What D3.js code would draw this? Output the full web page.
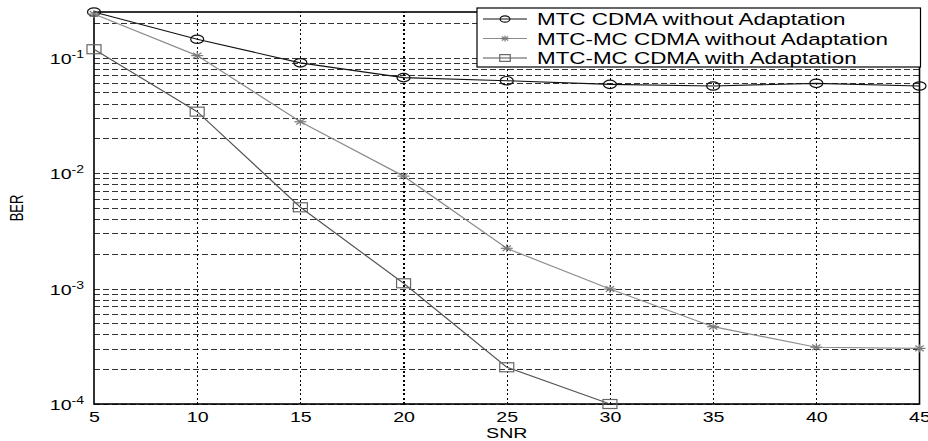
<!DOCTYPE html>
<html>
<head>
<meta charset="utf-8">
<script src="https://cdn.jsdelivr.net/npm/d3@7"></script>
<style>
  html, body { margin: 0; padding: 0; background: #fff; }
  svg { display: block; font-family: "Liberation Sans", Arial, sans-serif; }
</style>
</head>
<body>
<svg id="chart" width="928" height="441"></svg>
<script>
// SNR sweep (dB) and measured bit error rates
const snr = [5, 10, 15, 20, 25, 30, 35, 40, 45];
const berMtc = [0.248, 0.144, 0.090, 0.067, 0.063, 0.0586, 0.0567, 0.0598, 0.0567];
const berMtcMc = [0.238, 0.104, 0.0278, 0.0094, 0.00223, 0.00099, 0.000467, 0.00031, 0.000303];
const snrAdapt = [5, 10, 15, 20, 25, 30];
const berMtcMcAdapt = [0.118, 0.034, 0.00505, 0.00111, 0.000208, 0.0001];

const seriesNames = [
  "MTC CDMA without Adaptation",
  "MTC-MC CDMA without Adaptation",
  "MTC-MC CDMA with Adaptation"
];
const xTicks = [5, 10, 15, 20, 25, 30, 35, 40, 45];
const yTickExponents = [-4, -3, -2, -1];
const xLabel = "SNR";
const yLabel = "BER";

const svg = d3.select("#chart");
const pL = 94, pR = 919.5, pT = 12, pB = 404;
const sx = 1.4; // horizontal text stretch

const x = d3.scaleLinear().domain([5, 45]).range([pL, pR]);
const y = d3.scaleLog().domain([1e-4, 0.248]).range([pB, pT]);

// minor grid values: 1..9 x each decade inside the domain
const gridVals = [];
for (let e = -4; e <= -1; e++) {
  for (let m = 1; m <= 9; m++) {
    const v = m * Math.pow(10, e);
    if (v >= 1e-4 && v <= 0.248) gridVals.push(v);
  }
}

// horizontal dashed grid
svg.append("g")
  .attr("transform", `translate(${pL},0)`)
  .call(d3.axisLeft(y).tickValues(gridVals).tickSize(-(pR - pL)).tickFormat(""))
  .call(g => g.select(".domain").remove())
  .call(g => g.selectAll("line")
    .attr("stroke", "#333").attr("stroke-width", 1)
    .attr("stroke-dasharray", "6,3").attr("shape-rendering", "crispEdges"));

// vertical dotted grid
svg.append("g")
  .attr("transform", `translate(0,${pB})`)
  .call(d3.axisBottom(x).tickValues(xTicks.slice(1, -1)).tickSize(-(pB - pT)).tickFormat(""))
  .call(g => g.select(".domain").remove())
  .call(g => g.selectAll("line")
    .attr("stroke", "#000").attr("stroke-width", 1.2)
    .attr("stroke-dasharray", "2,2.5").attr("shape-rendering", "crispEdges"));

// frame
svg.append("rect")
  .attr("x", pL).attr("y", pT)
  .attr("width", pR - pL).attr("height", pB - pT)
  .attr("fill", "none").attr("stroke", "#000").attr("stroke-width", 1.6);

// x tick labels
const xAxis = svg.append("g")
  .attr("transform", `translate(0,${pB})`)
  .call(d3.axisBottom(x).tickValues(xTicks).tickSize(0).tickPadding(0).tickFormat(d3.format("d")));
xAxis.select(".domain").remove();
xAxis.selectAll(".tick text")
  .attr("fill", "#000").attr("font-size", 14)
  .attr("font-family", "Liberation Sans, Arial, sans-serif")
  .attr("y", 0).attr("dy", null)
  .attr("transform", `translate(0,18) scale(${sx},1)`);

// y tick labels: 10 with superscript exponent
const yAxis = svg.append("g")
  .attr("transform", `translate(${pL},0)`)
  .call(d3.axisLeft(y).tickValues(yTickExponents.map(e => Math.pow(10, e))).tickSize(0).tickFormat(""));
yAxis.select(".domain").remove();
yAxis.selectAll(".tick").each(function(d, i) {
  const t = d3.select(this).select("text")
    .attr("x", 0).attr("dy", null).attr("y", 0)
    .attr("text-anchor", "end")
    .attr("fill", "#000")
    .attr("font-family", "Liberation Sans, Arial, sans-serif")
    .attr("transform", `translate(-10,5.5) scale(${sx},1)`);
  t.selectAll("*").remove();
  t.text(null);
  t.append("tspan").attr("font-size", 14).text("10");
  t.append("tspan").attr("font-size", 10).attr("dy", -6).text(String(yTickExponents[i]));
});

// axis titles
svg.append("text")
  .attr("transform", `translate(${(pL + pR) / 2},438) scale(${sx},1)`)
  .attr("text-anchor", "middle").attr("font-size", 14).text(xLabel);
svg.append("text")
  .attr("transform", `translate(23,${(pT + pB) / 2}) scale(${sx},1) rotate(-90)`)
  .attr("text-anchor", "middle").attr("font-size", 13).text(yLabel);

// series
const series = [
  { name: seriesNames[0], xs: snr, ys: berMtc, line: "#111", mark: "#111", shape: "circle" },
  { name: seriesNames[1], xs: snr, ys: berMtcMc, line: "#8c8c8c", mark: "#7a7a7a", shape: "star" },
  { name: seriesNames[2], xs: snrAdapt, ys: berMtcMcAdapt, line: "#555", mark: "#666", shape: "square" }
];

function drawMarker(g, shape, color, cx, cy, s) {
  if (shape === "circle") {
    g.append("ellipse").attr("cx", cx).attr("cy", cy)
      .attr("rx", 6.5 * s).attr("ry", 4.2 * s)
      .attr("fill", "none").attr("stroke", color).attr("stroke-width", 1.2);
  } else if (shape === "square") {
    g.append("rect").attr("x", cx - 7 * s).attr("y", cy - 4.5 * s)
      .attr("width", 14 * s).attr("height", 9 * s)
      .attr("fill", "none").attr("stroke", color).attr("stroke-width", 1.2);
  } else {
    const w = 6 * s, h = 4 * s;
    const p = [[-w, 0, w, 0], [0, -h, 0, h], [-w * 0.7, -h * 0.7, w * 0.7, h * 0.7], [-w * 0.7, h * 0.7, w * 0.7, -h * 0.7]];
    p.forEach(q => g.append("line")
      .attr("x1", cx + q[0]).attr("y1", cy + q[1]).attr("x2", cx + q[2]).attr("y2", cy + q[3])
      .attr("stroke", color).attr("stroke-width", 1.2));
  }
}

const line = d3.line().x(d => x(d[0])).y(d => y(d[1]));
series.forEach(s => {
  const pts = s.xs.map((v, i) => [v, s.ys[i]]);
  svg.append("path").datum(pts).attr("d", line)
    .attr("fill", "none").attr("stroke", s.line).attr("stroke-width", 1.2);
  const mg = svg.append("g");
  pts.forEach(p => drawMarker(mg, s.shape, s.mark, x(p[0]), y(p[1]), 1));
});

// legend
const lg = svg.append("g");
const lgL = 477, lgR = 920.5, lgT = 8, lgB = 67;
lg.append("rect").attr("x", lgL).attr("y", lgT)
  .attr("width", lgR - lgL).attr("height", lgB - lgT)
  .attr("fill", "#fff").attr("stroke", "#000").attr("stroke-width", 1.2);
series.forEach((s, i) => {
  const cy = 19 + i * 19.5;
  lg.append("line").attr("x1", 483).attr("x2", 527).attr("y1", cy).attr("y2", cy)
    .attr("stroke", s.line).attr("stroke-width", 1.2);
  drawMarker(lg, s.shape, s.mark, 505, cy, 0.75);
  lg.append("text")
    .attr("transform", `translate(537,${cy + 6}) scale(${sx},1)`)
    .attr("font-size", 16).attr("fill", "#000").text(s.name);
});
</script>
</body>
</html>
